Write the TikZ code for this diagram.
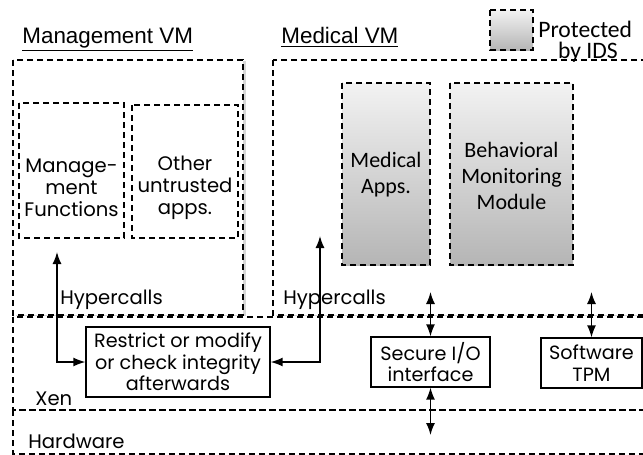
\documentclass[tikz,border=0pt]{standalone}
\usepackage{fontspec}
\setmainfont{Poppins}
\setsansfont{Liberation Sans}
\newfontfamily\calib{Carlito}
\usetikzlibrary{arrows.meta,shadows}

\begin{document}
\begin{tikzpicture}[x=0.5pt,y=-0.5pt,>={Latex[length=6pt,width=4.5pt]},
	dbox/.style={draw,dash pattern=on 3pt off 2pt,line width=0.65pt},
	vmbox/.style={dbox,fill=white,drop shadow={opacity=0.3,shadow xshift=1.3pt,shadow yshift=-0.6pt}},
	ids/.style={dbox,top color=gray!10,bottom color=gray!58},
	sbox/.style={draw,line width=0.65pt,align=center,inner sep=1pt,font=\fontsize{9.6}{10.8}\selectfont},
	lbl/.style={align=center,font=\fontsize{9.8}{11}\selectfont},
	clbl/.style={align=center,font=\calib\fontsize{11}{13}\selectfont},
	ttl/.style={anchor=base west,inner sep=0pt,font=\sffamily\fontsize{11.2}{13}\selectfont},
	arr/.style={<->,line width=0.7pt}]
	\useasboundingbox[fill=white] (0,0) rectangle (643,455);
	\clip (0,0) rectangle (643,455);
	% the two virtual machines
	\draw[vmbox] (13,60) rectangle (243,315);
	\draw[vmbox] (273,60) rectangle (670,315);
	\node[ttl] (mgmtvm) at (22,43) {\underline{Management VM}};
	\node[ttl] (medvm) at (281,43) {\underline{Medical VM}};
	% xen and hardware layers
	\draw[dbox] (13,317) rectangle (670,410);
	\draw[dbox] (13,410) rectangle (670,454);
	\node[lbl,anchor=base west,inner sep=0pt] (xen) at (35,405) {Xen};
	\node[lbl,anchor=base west,inner sep=0pt] (hw) at (28,448) {Hardware};
	% apps in the management vm
	\draw[dbox] (19,103) rectangle (124,238);
	\draw[dbox] (132,105) rectangle (238,238);
	\node[lbl] (mgmtfn) at (71.5,188) {Manage-\\ment\\Functions};
	\node[lbl] (other) at (185,188) {Other\\untrusted\\apps.};
	% protected parts of the medical vm
	\draw[ids] (342,83) rectangle (430,265);
	\draw[ids] (450,83) rectangle (573,265);
	\node[clbl] (medapps) at (386,175) {Medical\\Apps.};
	\node[clbl] (bmm) at (511.5,176) {Behavioral\\Monitoring\\Module};
	% legend
	\draw[ids] (490,10) rectangle (533,50);
	\node[clbl,anchor=base west,inner sep=0pt,font=\calib\fontsize{11.8}{13}\selectfont] (prot) at (538,37) {Protected};
	\node[clbl,anchor=base,inner sep=0pt,font=\calib\fontsize{11.8}{13}\selectfont] (byids) at (588,58) {by IDS};
	\node[lbl,anchor=base west,inner sep=0pt] (hcleft) at (60,304) {Hypercalls};
	\node[lbl,anchor=base west,inner sep=0pt] (hcright) at (283,304) {Hypercalls};
	% boxes inside xen
	\node[sbox,minimum width=92pt,minimum height=35pt] (restrict) at (178,362) {Restrict or modify\\or check integrity\\afterwards};
	\node[sbox,minimum width=59.5pt,minimum height=25pt] (secio) at (430.5,362) {Secure I/O\\interface};
	\node[sbox,minimum width=50.5pt,minimum height=25pt] (tpm) at (591.5,363) {Software\\TPM};
	\coordinate (hcL) at (57,252);
	\coordinate (hcR) at (320,236);
	\coordinate (ioT) at (430.5,292);
	\coordinate (ioB) at (430.5,435);
	\coordinate (tpmT) at (591.5,292);
	\draw[arr] (hcL) |- (restrict.west);
	\draw[arr] (hcR) |- (restrict.east);
	\draw[arr] (ioT) -- (secio.north);
	\draw[arr] (secio.south) -- (ioB);
	\draw[arr] (tpmT) -- (tpm.north);
\end{tikzpicture}
\end{document}
